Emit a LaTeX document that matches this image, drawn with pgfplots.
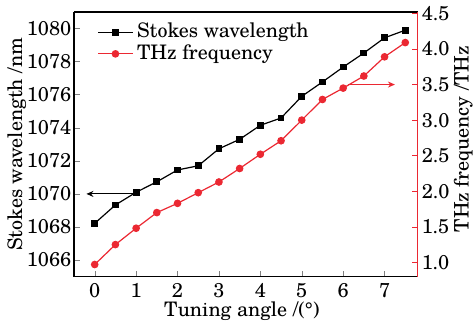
\documentclass[border=0pt]{standalone}
\usepackage{fontspec}
\setmainfont{TeX Gyre Schola}
\usepackage{pgfplots}
\pgfplotsset{compat=1.18}
\usetikzlibrary{arrows.meta}
\definecolor{mred}{RGB}{235,40,50}
\pgfplotsset{
  common/.style={
    scale only axis, width=171.85pt, height=132.3pt,
    xmin=-0.5, xmax=7.8,
    tick align=inside, major tick length=3pt,
    /pgf/number format/assume math mode=true,
    every axis/.append style={line width=0.6pt},
    label style={font=\fontsize{10}{12}\selectfont},
    tick label style={font=\fontsize{10}{12}\selectfont},
  }
}
\begin{document}
\begin{tikzpicture}
\begin{axis}[common,
  ymin=1065, ymax=1081,
  xtick={0,...,7}, ytick={1066,1068,...,1080},
  axis y line*=left, xtick pos=left,
  yticklabel style={xshift=2.3pt, /pgf/number format/.cd, fixed, set thousands separator={}},
  xlabel={Tuning angle /(°)},
  xlabel style={at={(axis description cs:0.5,0)}, anchor=base, yshift=-20pt, xshift=-2pt},
  ylabel={Stokes wavelength /nm},
  ylabel style={at={(axis description cs:-0.1665,0.5)}, anchor=center},
  legend style={at={(0.05,0.99)}, anchor=north west, draw=none, fill=none,
    font=\fontsize{10}{12}\selectfont, row sep=-2pt},
  legend cell align=left,
]
\coordinate (SW) at (rel axis cs:0,0);
\coordinate (NE) at (rel axis cs:1,1);
\addplot[black, line width=0.6pt, mark=square*, mark size=1.4pt] coordinates {
(0,1068.22) (0.5,1069.33) (1,1070.10) (1.5,1070.73) (2,1071.45) (2.5,1071.70)
(3,1072.73) (3.5,1073.30) (4,1074.15) (4.5,1074.59) (5,1075.90) (5.5,1076.77)
(6,1077.67) (6.5,1078.52) (7,1079.44) (7.5,1079.90)};
\addlegendentry{Stokes wavelength}
\addlegendimage{mred, line width=0.6pt, mark=*, mark size=1.6pt}
\addlegendentry{THz frequency}
\draw[-{Stealth[length=3.5pt,width=3pt]}, line width=0.5pt] (axis cs:0.92,1070) -- (axis cs:-0.2,1070);
\end{axis}
\begin{axis}[common,
  ymin=0.8, ymax=4.52,
  axis y line*=right, axis x line=none,
  ytick={1,1.5,...,4.5},
  y axis line style={mred}, ytick style={mred},
  yticklabel style={xshift=-1.6pt, /pgf/number format/.cd, fixed, fixed zerofill, precision=1},
  ylabel={THz frequency /THz},
  ylabel style={at={(axis description cs:1.133,0.52)}, anchor=center},
]
\addplot[mred, line width=0.6pt, mark=*, mark size=1.6pt] coordinates {
(0,0.97) (0.5,1.25) (1,1.48) (1.5,1.70) (2,1.83) (2.5,1.98) (3,2.13) (3.5,2.32)
(4,2.52) (4.5,2.71) (5,3.00) (5.5,3.29) (6,3.45) (6.5,3.62) (7,3.89) (7.5,4.09)};
\draw[mred, -{Stealth[length=3.5pt,width=3pt]}, line width=0.5pt] (axis cs:6.12,3.5) -- (axis cs:7.25,3.5);
\end{axis}
\pgfresetboundingbox
\path[use as bounding box] ([shift={(-37pt,-25.15pt)}]SW) rectangle ([shift={(29.15pt,6pt)}]NE);
\end{tikzpicture}
\end{document}
